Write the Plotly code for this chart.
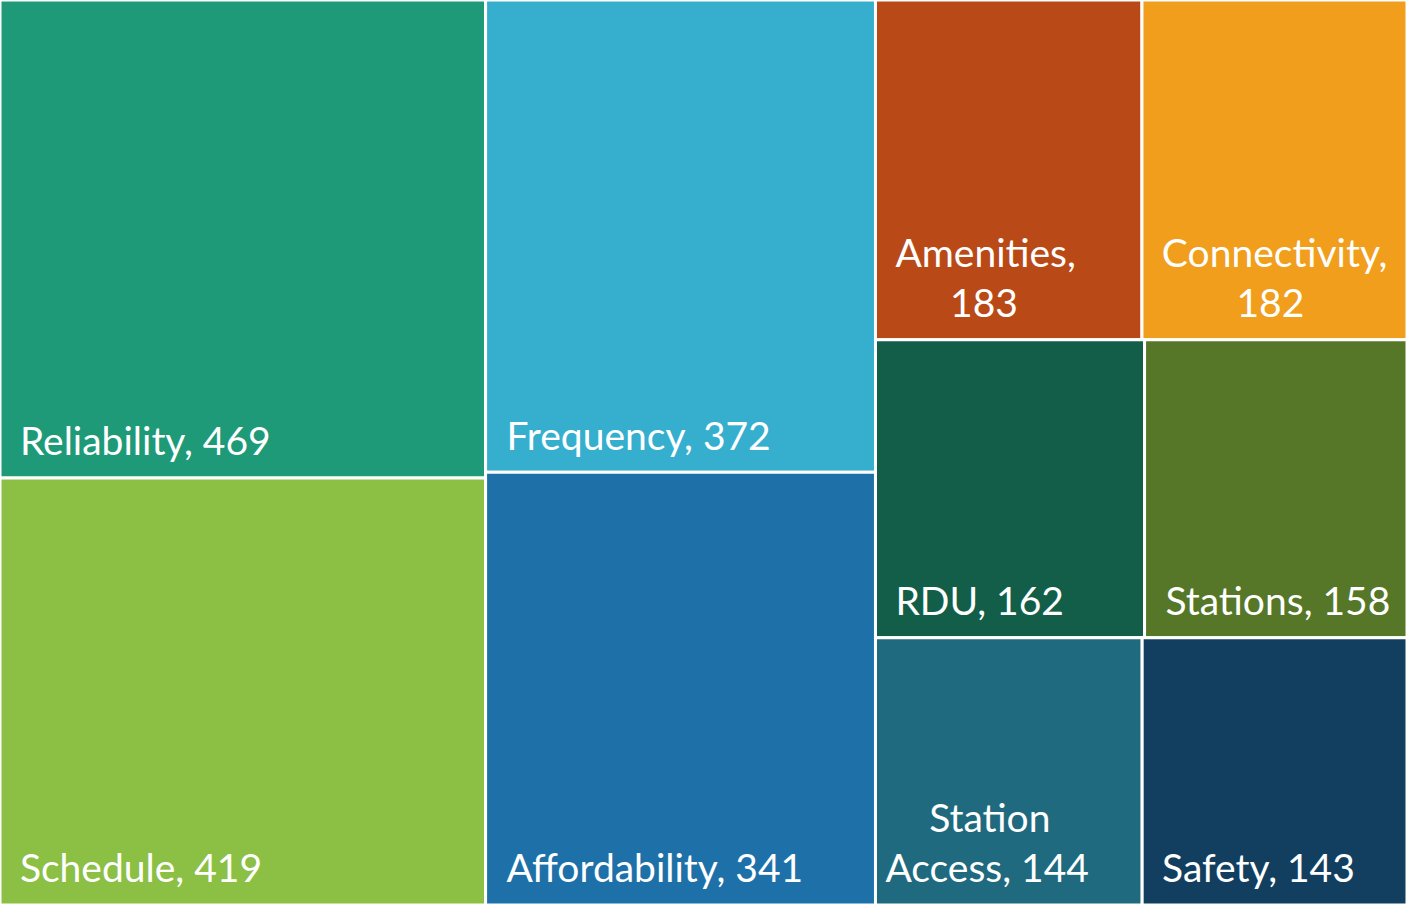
import plotly.graph_objects as go

labels = ["Reliability", "Schedule", "Frequency", "Affordability", "Amenities",
          "Connectivity", "RDU", "Stations", "Station Access", "Safety"]
values = [469, 419, 372, 341, 183, 182, 162, 158, 144, 143]
colors = ["#1E9A78", "#8CC045", "#36AFCF", "#1E70A8", "#B94A18",
          "#F09E1C", "#125E49", "#557727", "#1F6A7E", "#123F60"]
# label lines as shown in each tile
label_lines = [["Reliability, 469"], ["Schedule, 419"], ["Frequency, 372"],
               ["Affordability, 341"], ["Amenities,", "183"], ["Connectivity,", "182"],
               ["RDU, 162"], ["Stations, 158"], ["Station", "Access, 144"], ["Safety, 143"]]
# left inset (px) of each text line inside its tile
insets = [[20], [20], [21], [21], [20, 75], [20, 95], [20], [21], [54, 10], [20]]

BIG = 39
BASE = 12.8
NBSP_EM = 0.2575   # advance of a no-break space in Lato
PLOTLY_INSET = 3


def pad(px):
    px -= PLOTLY_INSET
    if px <= 0:
        return ""
    n = max(1, round(px / (NBSP_EM * 40)))
    size = px / (n * NBSP_EM)
    return f'<span style="font-size:{size:.2f}px">' + "\u00a0" * n + "</span>"


def build(lines, ins):
    out = []
    for i, (ln, px) in enumerate(zip(lines, ins)):
        if i > 0:
            out.append("<br><br><br>")
        out.append(pad(px) + f'<span style="font-size:{BIG}px">' + ln + "</span>")
    out.append("<br>\u00a0")
    return "".join(out)


display = [build(l, i) for l, i in zip(label_lines, insets)]

fig = go.Figure(go.Treemap(
    labels=labels,
    parents=[""] * len(labels),
    values=values,
    text=display,
    texttemplate="%{text}",
    textposition="bottom left",
    textfont=dict(family="Lato", size=BASE, color="white"),
    marker=dict(colors=colors, line=dict(color="white", width=3),
                pad=dict(t=0, l=0, r=0, b=0)),
    tiling=dict(packing="squarify", squarifyratio=1, pad=0),
    pathbar=dict(visible=False),
    sort=True,
    hoverinfo="none",
))

fig.update_layout(
    margin=dict(l=0, r=0, t=0, b=0),
    paper_bgcolor="white",
    hovermode=False,
)

fig.write_html(
    "out.html", default_width="100%", default_height="100%",
    config={"displayModeBar": False},
    post_script=("document.body.style.margin='0';"
                 "document.documentElement.style.overflow='hidden';"
                 "Plotly.Plots.resize(document.getElementById('{plot_id}'));"),
)
